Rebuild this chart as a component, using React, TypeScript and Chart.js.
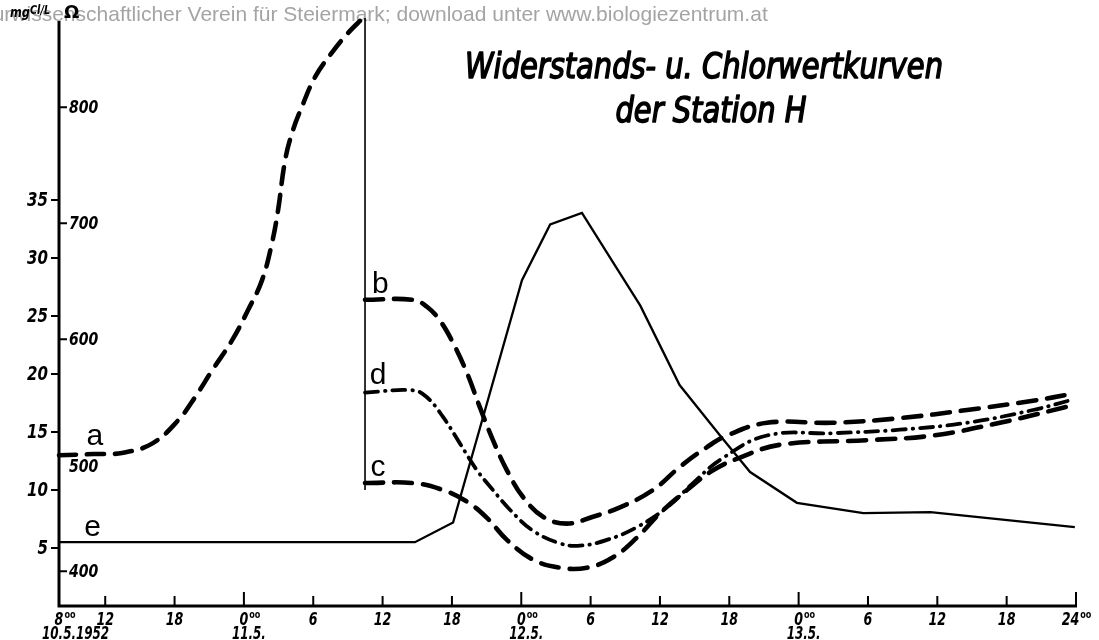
import React, { useEffect, useRef } from "react";
import { Chart, registerables } from "chart.js";

Chart.register(...registerables);

// ---- data (hours counted from 0:00 on 10.5.1952) ----
const hoursA = [8, 11, 13.45, 16.05, 18.3, 19.77, 21.24, 22.97, 24.35, 25.57, 26.43, 26.95, 27.56, 28.17, 29.0, 30.15, 31.6, 33.0, 34.3];
const ohmA = [500, 501, 502, 510, 530, 550, 573, 599, 625, 651, 683, 711, 754, 778, 800, 826, 847, 864, 877];

const hoursB = [34.48, 38.63, 39.84, 40.97, 42.09, 43.3, 44.43, 45.55, 46.76, 48.15, 49.88, 51.96, 54.21, 56.54, 59.4, 61.73, 64.07, 65.8, 69.26, 74.97, 80.77, 86.57, 92.28, 95.74];
const ohmB = [634, 634, 628, 616, 597, 571, 541, 513, 487, 464, 447, 441, 447, 455, 470, 490, 507, 517, 528, 528, 532, 539, 547, 553];

const hoursD = [34.48, 38.63, 39.84, 41.23, 42.7, 44.17, 45.55, 47.02, 49.01, 51.35, 53.08, 55.42, 58.01, 60.61, 62.86, 65.2, 69.26, 74.97, 80.77, 86.57, 92.28, 95.74];
const ohmD = [554, 556, 550, 533, 510, 487, 470, 453, 435, 424, 422, 427, 438, 455, 476, 496, 517, 519, 522, 528, 539, 548];

const hoursC = [34.48, 38.63, 41.23, 43.3, 45.03, 46.76, 49.01, 51.35, 53.69, 55.94, 58.01, 60.0, 62.34, 64.59, 66.93, 70.39, 77.91, 83.63, 89.42, 95.74];
const ohmC = [476, 476, 470, 460, 446, 427, 410, 403, 403, 412, 429, 450, 470, 487, 498, 509, 513, 517, 528, 543];

const hoursE = [8, 38.8, 42.1, 48.06, 50.5, 53.25, 55.9, 58.3, 61.7, 65.2, 67.8, 71.85, 77.6, 83.4, 95.9];
const clE = [5.5, 5.5, 7.2, 28.1, 32.9, 33.9, 29.7, 25.9, 19.05, 14.7, 11.55, 8.9, 8.0, 8.1, 6.8];

const hoursBreak = [34.48, 34.48];
const ohmBreak = [877, 470];

// ---- axes / ticks ----
const xTickHours = [8, 12, 18, 24, 30, 36, 42, 48, 54, 60, 66, 72, 78, 84, 90, 96];
const xTickLabels = ["8", "12", "18", "0", "6", "12", "18", "0", "6", "12", "18", "0", "6", "12", "18", "24"];
const xTickSup = ["oo", "", "", "oo", "", "", "", "oo", "", "", "", "oo", "", "", "", "oo"];
const dayHours = [8, 24, 48, 72];
const dayLabels = ["10.5.1952", "11.5.", "12.5.", "13.5."];
const clTicks = [5, 10, 15, 20, 25, 30, 35];
const ohmTicks = [400, 500, 600, 700, 800];

const titleLines = ["Widerstands- u. Chlorwertkurven", "der Station H"];
const watermark = "Naturwissenschaftlicher Verein für Steiermark; download unter www.biologiezentrum.at";

const curveNames = ["a", "b", "c", "d", "e"];
const curveNameAt: [number, number, string][] = [
  [11.1, 517, "y2"],
  [35.8, 648, "y2"],
  [35.6, 490, "y2"],
  [35.6, 569, "y2"],
  [10.9, 6.8, "y"],
];

const NUM_FONT = "'DejaVu Sans Condensed', 'DejaVu Sans', sans-serif";
const TITLE_FONT = "'DejaVu Sans Condensed', 'DejaVu Sans', sans-serif";

const pts = (xs: number[], ys: number[]) => xs.map((x, i) => ({ x, y: ys[i] }));

function squeezed(ctx: CanvasRenderingContext2D, text: string, x: number, y: number, sx: number) {
  ctx.save();
  ctx.translate(x, y);
  ctx.scale(sx, 1);
  ctx.textAlign = "left";
  ctx.fillText(text, 0, 0);
  ctx.restore();
}

const paperPlugin = {
  id: "paper",
  beforeDraw(chart: any) {
    const ctx = chart.ctx as CanvasRenderingContext2D;
    ctx.save();
    ctx.fillStyle = "#ffffff";
    ctx.fillRect(0, 0, chart.width, chart.height);
    ctx.font = "21px 'Liberation Sans', Arial, sans-serif";
    ctx.fillStyle = "#a4a4a4";
    ctx.textBaseline = "alphabetic";
    ctx.textAlign = "left";
    ctx.fillText(watermark, -40, 21);
    ctx.restore();
  },
  beforeDatasetsDraw(chart: any) {
    const ctx = chart.ctx as CanvasRenderingContext2D;
    const { left, right, top, bottom } = chart.chartArea;
    const xs = chart.scales.x;
    const ys = chart.scales.y;
    const y2 = chart.scales.y2;
    ctx.save();
    ctx.strokeStyle = "#000";
    ctx.lineCap = "butt";
    ctx.lineWidth = 3;
    ctx.beginPath();
    ctx.moveTo(left, top + 3);
    ctx.lineTo(left, bottom + 1.5);
    ctx.moveTo(left - 1.5, bottom);
    ctx.lineTo(right + 1, bottom);
    ctx.stroke();
    ctx.lineWidth = 2;
    ctx.beginPath();
    clTicks.forEach((v) => {
      const y = ys.getPixelForValue(v);
      ctx.moveTo(left - 8, y);
      ctx.lineTo(left, y);
    });
    ohmTicks.forEach((v) => {
      const y = y2.getPixelForValue(v);
      ctx.moveTo(left, y);
      ctx.lineTo(left + 8, y);
    });
    ctx.stroke();
    ctx.beginPath();
    xTickHours.forEach((h) => {
      const x = xs.getPixelForValue(h);
      const long = h % 24 === 0;
      ctx.moveTo(x, bottom);
      ctx.lineTo(x, bottom - (long ? 14 : 10));
    });
    ctx.stroke();
    ctx.restore();
  },
  afterDraw(chart: any) {
    const ctx = chart.ctx as CanvasRenderingContext2D;
    const { left, bottom } = chart.chartArea;
    const xs = chart.scales.x;
    const ys = chart.scales.y;
    const y2 = chart.scales.y2;
    ctx.save();
    ctx.fillStyle = "#000";
    ctx.textBaseline = "middle";

    // Cl tick labels (right aligned, squeezed)
    ctx.font = `italic bold 19px ${NUM_FONT}`;
    const sqY = 0.88;
    clTicks.forEach((v) => {
      const w = ctx.measureText(String(v)).width * sqY;
      squeezed(ctx, String(v), left - 11 - w, ys.getPixelForValue(v) + 1, sqY);
    });

    // Ohm tick labels
    ctx.font = `italic bold 17px ${NUM_FONT}`;
    ohmTicks.forEach((v) => {
      const y = y2.getPixelForValue(v) + (v === 500 ? 12 : 1);
      squeezed(ctx, String(v), left + 10, y, 0.92);
    });

    // axis units
    ctx.textBaseline = "alphabetic";
    ctx.font = `italic bold 14px ${NUM_FONT}`;
    squeezed(ctx, "mg", 10, 17, 0.9);
    const mgW = ctx.measureText("mg").width * 0.9;
    ctx.font = `italic bold 12px ${NUM_FONT}`;
    squeezed(ctx, "Cl/L", 10 + mgW, 14, 0.9);
    ctx.font = `bold 18px 'DejaVu Sans', sans-serif`;
    ctx.textAlign = "left";
    ctx.fillText("Ω", 64, 18);

    // x tick labels
    const sqX = 0.78;
    xTickHours.forEach((h, i) => {
      const x = xs.getPixelForValue(h);
      ctx.font = `italic bold 18px ${NUM_FONT}`;
      const main = xTickLabels[i];
      const wMain = ctx.measureText(main).width * sqX;
      const sup = xTickSup[i];
      ctx.font = `bold 10px ${NUM_FONT}`;
      const wSup = sup ? ctx.measureText(sup).width * 0.9 : 0;
      const start = main.length > 1 && sup ? x - (wMain + wSup) / 2 : x - wMain / 2;
      ctx.font = `italic bold 18px ${NUM_FONT}`;
      squeezed(ctx, main, start, bottom + 19, sqX);
      if (sup) {
        ctx.font = `bold 10px ${NUM_FONT}`;
        squeezed(ctx, sup, start + wMain + 1, bottom + 12, 0.9);
      }
    });

    // day labels
    ctx.font = `italic bold 17px ${NUM_FONT}`;
    dayHours.forEach((h, i) => {
      const x = xs.getPixelForValue(h);
      const w = ctx.measureText(dayLabels[i]).width * sqX;
      let sx = x + 5 - w / 2;
      if (sx < left - 17) sx = left - 17;
      squeezed(ctx, dayLabels[i], sx, bottom + 33, sqX);
    });

    // curve names
    ctx.font = `30px 'Liberation Sans', 'DejaVu Sans', sans-serif`;
    ctx.textAlign = "center";
    curveNames.forEach((n, i) => {
      const [h, v, axis] = curveNameAt[i];
      const x = xs.getPixelForValue(h);
      const y = (axis === "y" ? ys : y2).getPixelForValue(v);
      ctx.fillText(n, x, y + 9);
    });

    // title
    ctx.font = `italic 36px ${TITLE_FONT}`;
    ctx.textAlign = "center";
    const w1 = ctx.measureText(titleLines[0]).width;
    const sx = 478 / w1;
    ctx.lineWidth = 1.5;
    ctx.lineJoin = "round";
    ctx.strokeStyle = "#000";
    [[704, 78], [711, 122]].forEach(([cx, by], i) => {
      ctx.save();
      ctx.translate(cx, by);
      ctx.scale(sx, 1);
      ctx.fillText(titleLines[i], 0, 0);
      ctx.strokeText(titleLines[i], 0, 0);
      ctx.restore();
    });
    ctx.restore();
  },
};

export default function App() {
  const ref = useRef<HTMLCanvasElement>(null);
  useEffect(() => {
    const canvas = ref.current!;
    const common = {
      borderColor: "#000",
      backgroundColor: "#000",
      pointRadius: 0,
      fill: false,
      clip: false as any,
    };
    const curve = { tension: 0.4, cubicInterpolationMode: "default", borderCapStyle: "round", borderJoinStyle: "round" };
    const chart = new Chart(canvas, {
      type: "line",
      data: {
        datasets: [
          { ...common, label: "e", data: pts(hoursE, clE), yAxisID: "y", borderWidth: 2.3, tension: 0, borderJoinStyle: "miter" },
          { ...common, label: "break", data: pts(hoursBreak, ohmBreak), yAxisID: "y2", borderWidth: 1.6, tension: 0 },
          { ...common, ...curve, label: "a", data: pts(hoursA, ohmA), yAxisID: "y2", borderWidth: 4.6, borderDash: [17, 11] },
          { ...common, ...curve, label: "b", data: pts(hoursB, ohmB), yAxisID: "y2", borderWidth: 4.6, borderDash: [18, 11] },
          { ...common, ...curve, label: "c", data: pts(hoursC, ohmC), yAxisID: "y2", borderWidth: 4.6, borderDash: [18, 11] },
          { ...common, ...curve, label: "d", data: pts(hoursD, ohmD), yAxisID: "y2", borderWidth: 3.8, borderDash: [13, 7, 0.5, 7] },
        ] as any,
      },
      options: {
        animation: false,
        responsive: false,
        devicePixelRatio: 1,
        layout: { padding: { left: 59, top: 18, right: 23, bottom: 34 } },
        plugins: { legend: { display: false }, tooltip: { enabled: false }, title: { display: false } },
        scales: {
          x: { type: "linear", min: 8, max: 96, display: false },
          y: { type: "linear", min: 0, max: 50.7, display: false },
          y2: { type: "linear", min: 370, max: 877, display: false },
        },
        elements: { point: { radius: 0 } },
      } as any,
      plugins: [paperPlugin],
    });
    return () => chart.destroy();
  }, []);
  return (
    <div style={{ position: "fixed", left: 0, top: 0, width: 1099, height: 640, background: "#fff" }}>
      <canvas ref={ref} width={1099} height={640} style={{ display: "block" }} />
    </div>
  );
}
